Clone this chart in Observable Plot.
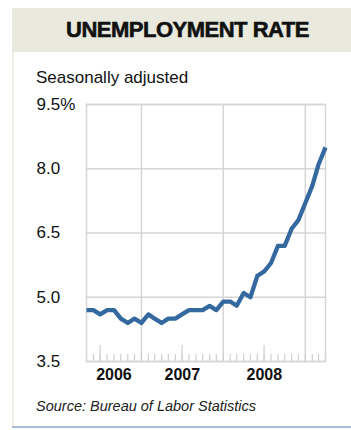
<!DOCTYPE html>
<html><head><meta charset="utf-8">
<script src="https://cdn.jsdelivr.net/npm/d3@7"></script>
<script src="https://cdn.jsdelivr.net/npm/@observablehq/plot@0.6"></script>
<style>
body{margin:0;background:#fff;font-family:"Liberation Sans",Arial,sans-serif;}
#wrap{position:relative;width:351px;height:430px;overflow:hidden;background:#fff;}
#header{position:absolute;left:12px;top:8px;width:339px;height:44px;background:#e9e9de;display:flex;align-items:center;justify-content:center;}
#title{font-weight:bold;font-size:22px;letter-spacing:-0.5px;color:#111;-webkit-text-stroke:0.6px #111;padding-left:12px;}
#leftbar{position:absolute;left:12px;top:52px;width:2px;height:374px;background:#eeeee4;}
#bottombar{position:absolute;left:12px;top:426px;width:339px;height:2px;background:#a7bdd6;}
#subtitle{position:absolute;left:36px;top:68px;font-size:17px;color:#111;}
#chart{position:absolute;left:0;top:90px;}
#source{position:absolute;left:36px;top:398px;font-size:14.5px;font-style:italic;color:#222;}
</style>
</head><body>
<div id="wrap">
  <div id="header"><div id="title">UNEMPLOYMENT RATE</div></div>
  <div id="leftbar"></div>
  <div id="subtitle">Seasonally adjusted</div>
  <div id="chart"></div>
  <div id="source">Source: Bureau of Labor Statistics</div>
  <div id="bottombar"></div>
</div>
<script>
const months = [
  "2006-04","2006-05","2006-06","2006-07","2006-08","2006-09","2006-10","2006-11","2006-12",
  "2007-01","2007-02","2007-03","2007-04","2007-05","2007-06","2007-07","2007-08","2007-09","2007-10","2007-11","2007-12",
  "2008-01","2008-02","2008-03","2008-04","2008-05","2008-06","2008-07","2008-08","2008-09","2008-10","2008-11","2008-12",
  "2009-01","2009-02","2009-03"
];
const rates = [
  4.7, 4.7, 4.6, 4.7, 4.7, 4.5, 4.4, 4.5, 4.4,
  4.6, 4.5, 4.4, 4.5, 4.5, 4.6, 4.7, 4.7, 4.7, 4.8, 4.7, 4.9,
  4.9, 4.8, 5.1, 5.0, 5.5, 5.6, 5.8, 6.2, 6.2, 6.6, 6.8, 7.2,
  7.6, 8.1, 8.5
];
const yTicks = [3.5, 5.0, 6.5, 8.0, 9.5];
const yTickLabels = ["3.5", "5.0", "6.5", "8.0", "9.5%"];
const yearLabels = ["2006", "2007", "2008"];

const parse = d3.utcParse("%Y-%m");
// each monthly value is plotted at the end of its month
const data = months.map((m, i) => ({date: d3.utcMonth.offset(parse(m), 1), rate: rates[i]}));
const xDomain = d3.extent(data, d => d.date);
const yearGrid = d3.utcYear.range(xDomain[0], xDomain[1]);
const monthTicks = d3.utcMonth.range(xDomain[0], new Date(+xDomain[1] + 1));
const julyTicks = monthTicks.filter(d => d.getUTCMonth() === 6);
const yearData = yearLabels.map(y => {
  const a = new Date(Date.UTC(+y, 0, 1)), b = new Date(Date.UTC(+y + 1, 0, 1));
  const s = Math.max(+a, +xDomain[0]), e = Math.min(+b, +xDomain[1]);
  return {year: y, mid: new Date((s + e) / 2)};
});

const mt = 14, plotH = 257, mb = 34;
const grid = "#d6d6d6";
const chart = Plot.plot({
  width: 351, height: mt + plotH + mb,
  marginLeft: 86, marginRight: 26, marginTop: mt, marginBottom: mb,
  x: {type: "utc", domain: xDomain},
  y: {domain: [3.5, 9.5]},
  style: {fontFamily: "'Liberation Sans', Arial, sans-serif", background: "transparent", overflow: "visible", color: "#111"},
  marks: [
    Plot.ruleY(yTicks, {stroke: grid, strokeWidth: 1.5}),
    Plot.ruleX(yearGrid, {stroke: grid, strokeWidth: 1.5}),
    Plot.ruleX(monthTicks, {stroke: "#cfcfcf", strokeWidth: 1.2, insetTop: plotH - 7}),
    Plot.ruleX(julyTicks, {stroke: "#cfcfcf", strokeWidth: 1.2, insetTop: plotH - 16}),
    Plot.frame({stroke: grid, strokeWidth: 1.5}),
    Plot.line(data, {x: "date", y: "rate", stroke: "#33699f", strokeWidth: 4.3, strokeLinejoin: "round", strokeLinecap: "butt"}),
    Plot.axisY(yTicks, {anchor: "left", tickSize: 0, tickPadding: 50, textAnchor: "start", label: null,
      tickFormat: d => yTickLabels[yTicks.indexOf(d)], fontSize: 17, fill: "#111"}),
    Plot.axisX({ticks: [], label: null}),
    Plot.text(yearData, {x: "mid", text: "year", frameAnchor: "bottom", dy: 18, fontWeight: "bold", fontSize: 16, fill: "#111"})
  ]
});
document.getElementById("chart").appendChild(chart);
</script>
</body></html>
